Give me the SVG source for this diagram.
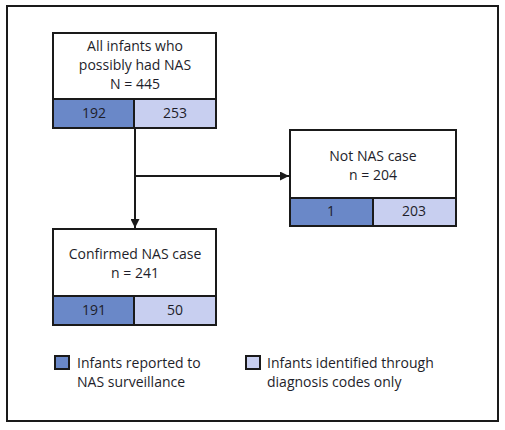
<svg xmlns="http://www.w3.org/2000/svg" width="505" height="430" viewBox="0 0 505 430">
<style>
text{font-family:"Open Sans","Liberation Sans",sans-serif;font-size:14px;fill:#1e1e2a;text-anchor:middle}
.lg{text-anchor:start}
.box{fill:#fff;stroke:#1a1a1a;stroke-width:2}
.dk{fill:#6a88c8;stroke:#1a1a1a;stroke-width:2}
.lt{fill:#c8cff0;stroke:#1a1a1a;stroke-width:2}
.ln{stroke:#1a1a1a;stroke-width:2;fill:none}
</style>
<defs>
<marker id="ah" viewBox="0 0 10 10" refX="10" refY="5" markerWidth="5" markerHeight="4.5" orient="auto" markerUnits="strokeWidth">
<path d="M0,0 L10,5 L0,10 z" fill="#1a1a1a"/>
</marker>
</defs>
<rect x="7" y="6" width="491" height="415" fill="#fff" stroke="#1a1a1a" stroke-width="2"/>
<g id="connectors">
<path class="ln" d="M135,128 V228" marker-end="url(#ah)"/>
<path class="ln" d="M135,176 H289" marker-end="url(#ah)"/>
</g>
<g id="all">
<rect class="box" x="53" y="33" width="163" height="95"/>
<rect class="dk" x="53" y="99" width="81" height="29"/>
<rect class="lt" x="134" y="99" width="82" height="29"/>
<text x="135" y="51">All infants who</text>
<text x="135" y="70">possibly had NAS</text>
<text x="135" y="89">N = 445</text>
<text x="94" y="118">192</text>
<text x="175" y="118">253</text>
</g>
<g id="notnas">
<rect class="box" x="290" y="130" width="166" height="96"/>
<rect class="dk" x="290" y="198" width="83" height="28"/>
<rect class="lt" x="373" y="198" width="83" height="28"/>
<text x="373" y="161">Not NAS case</text>
<text x="373" y="180">n = 204</text>
<text x="331" y="216">1</text>
<text x="414" y="216">203</text>
</g>
<g id="confirmed">
<rect class="box" x="53" y="229" width="163" height="96"/>
<rect class="dk" x="53" y="296" width="81" height="29"/>
<rect class="lt" x="134" y="296" width="82" height="29"/>
<text x="135" y="259">Confirmed NAS case</text>
<text x="135" y="278">n = 241</text>
<text x="94" y="315">191</text>
<text x="175" y="315">50</text>
</g>
<g id="legend">
<rect class="dk" x="55" y="356" width="14" height="13"/>
<text class="lg" x="77" y="368">Infants reported to</text>
<text class="lg" x="77" y="387">NAS surveillance</text>
<rect class="lt" x="246" y="356" width="14" height="13"/>
<text class="lg" x="267" y="368">Infants identified through</text>
<text class="lg" x="267" y="387">diagnosis codes only</text>
</g>
</svg>
